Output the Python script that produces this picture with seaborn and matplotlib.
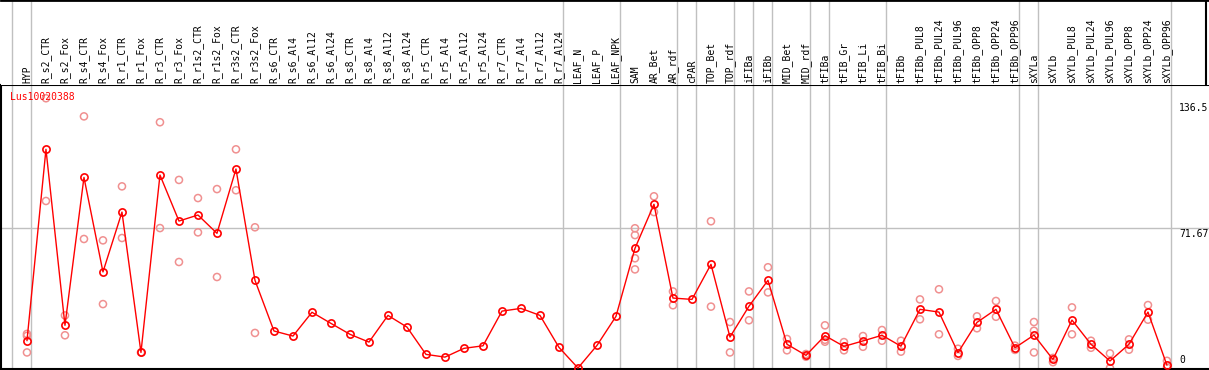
import numpy as np
import pandas as pd
import matplotlib
matplotlib.use("Agg")
import matplotlib.pyplot as plt
import seaborn as sns

# ---------- Data ----------

samples = [
    "HYP", "R_s2_CTR", "R_s2_Fox", "R_s4_CTR", "R_s4_Fox", "R_r1_CTR", "R_r1_Fox",
    "R_r3_CTR", "R_r3_Fox", "R_r1s2_CTR", "R_r1s2_Fox", "R_r3s2_CTR", "R_r3s2_Fox",
    "R_s6_CTR", "R_s6_Al4", "R_s6_Al12", "R_s6_Al24", "R_s8_CTR", "R_s8_Al4",
    "R_s8_Al12", "R_s8_Al24", "R_r5_CTR", "R_r5_Al4", "R_r5_Al12", "R_r5_Al24",
    "R_r7_CTR", "R_r7_Al4", "R_r7_Al12", "R_r7_Al24", "LEAF_N", "LEAF_P", "LEAF_NPK",
    "SAM", "AR_Bet", "AR_rdf", "cPAR", "TOP_Bet", "TOP_rdf", "iFIBa", "iFIBb",
    "MID_Bet", "MID_rdf", "tFIBa", "tFIB_Gr", "tFIB_Li", "tFIB_Bi", "tFIBb",
    "tFIBb_PUL8", "tFIBb_PUL24", "tFIBb_PUL96", "tFIBb_OPP8", "tFIBb_OPP24",
    "tFIBb_OPP96", "sXYLa", "sXYLb", "sXYLb_PUL8", "sXYLb_PUL24", "sXYLb_PUL96",
    "sXYLb_OPP8", "sXYLb_OPP24", "sXYLb_OPP96",
]

mean_vals = [
    14.0, 112.2, 21.9, 97.8, 49.3, 80.0, 8.0,
    99.0, 75.4, 78.5, 69.1, 102.1, 45.0,
    19.0, 16.4, 28.6, 22.9, 17.3, 13.3,
    27.0, 21.0, 7.0, 5.6, 10.1, 11.4,
    29.2, 30.6, 27.0, 10.6, 0.0, 11.6, 26.5,
    61.4, 84.0, 35.9, 35.2, 53.2, 15.9, 31.7, 45.0,
    12.2, 6.5, 16.6, 11.1, 13.9, 16.8, 11.2,
    30.1, 28.7, 7.9, 23.4, 30.1,
    10.4, 16.9, 4.4, 24.6, 12.2, 3.6,
    12.2, 28.7, 1.4,
]

rep_vals = [
    [17.5, 16.5, 8.0], [138.4, 85.7], [27.0, 16.8], [129.1, 66.2], [65.5, 32.8],
    [93.2, 66.7], [8.0], [126.1, 71.8], [96.5, 54.4], [87.2, 69.6], [91.8, 46.7],
    [112.2, 91.2], [72.2, 18.0],
    [], [], [], [], [], [], [], [], [], [], [], [], [], [], [], [], [], [], [],
    [71.7, 68.2, 56.3, 50.6], [88.1, 80.0], [39.3, 32.2], [], [75.3, 31.5],
    [23.6, 8.0], [39.3, 24.5], [51.7, 38.8], [14.9, 9.1], [7.2, 5.8],
    [21.9, 14.5, 13.5], [13.3, 9.1], [16.4, 10.9], [19.5, 14.0], [14.0, 8.4],
    [35.2, 25.0], [40.4, 17.3], [9.9, 6.2], [26.5, 20.4], [34.4, 26.3],
    [11.5, 9.3], [23.6, 19.1, 8.0], [5.2, 3.0], [31.1, 17.3], [14.0, 10.4],
    [7.5, 0.0], [14.7, 9.4], [32.3, 24.8], [3.7, 0.2],
]

# group separators sit just right of the last sample of each group
group_ends = [-1, 0, 28, 31, 34, 35, 37, 38, 39, 41, 42, 45, 52, 53, 60]

gene = "Lus10020388"
ytick_vals = [136.5, 71.67, 0]

# ---------- Plot ----------

sns.set_style("white")
plt.rcParams["font.family"] = ["DejaVu Sans Mono", "DejaVu Sans"]

W, H = 1209, 370
fig = plt.figure(figsize=(W / 100, H / 100), dpi=100)

x0, dx = 26, 19            # pixel position of first column and column pitch
xlim = (-x0 / dx, (W - x0) / dx)
ylim = (-0.5, 145.2)

top_px, bot_px = 85, 369
ax = fig.add_axes([0.0008, (H - bot_px) / H, 1.0, (bot_px - top_px) / H])
ax_h = fig.add_axes([0.0008, (H - top_px) / H, 1.0, top_px / H])

x_idx = np.arange(len(samples))
mean_df = pd.DataFrame({"x": x_idx, "value": mean_vals})
rep_df = pd.DataFrame(
    [(i, v) for i, reps in enumerate(rep_vals) for v in reps],
    columns=["x", "value"],
)

grid_c = "#c0c0c0"
for g in group_ends:
    ax.axvline(g + 0.2, color=grid_c, lw=1.0, zorder=0)
    ax_h.axvline(g + 0.2, color=grid_c, lw=1.0, zorder=0)
ax.axhline(71.67, color=grid_c, lw=1.0, zorder=0)

sns.scatterplot(data=rep_df, x="x", y="value", ax=ax, marker="o", s=26,
                facecolor="none", edgecolor="#f09090", linewidth=1.1,
                legend=False, zorder=2)
sns.lineplot(data=mean_df, x="x", y="value", ax=ax, color="#ff0000", lw=1.0,
             marker="o", markersize=5.2, markerfacecolor="none",
             markeredgecolor="#ff0000", markeredgewidth=1.2,
             errorbar=None, legend=False, zorder=3)

ax.set_xlim(*xlim)
ax.set_ylim(*ylim)
ax.set_xticks([])
ax.set_yticks([])
ax.set_xlabel("")
ax.set_ylabel("")
for side in ["left", "bottom", "top"]:
    ax.spines[side].set_color("black")
    ax.spines[side].set_linewidth(1.5)
ax.spines["right"].set_visible(False)

ax.text(9 / W, 1 - 12 / (bot_px - top_px), gene, transform=ax.transAxes,
        color="#ff0000", fontsize=7, ha="left", va="center")

for v in ytick_vals:
    if v == 0:
        ax.annotate("0", xy=(1178 / W, v), xycoords=("axes fraction", "data"),
                    xytext=(0, 3), textcoords="offset pixels",
                    fontsize=7, ha="left", va="bottom", color="black")
    else:
        ax.annotate(f"{v:g}", xy=(1178 / W, v), xycoords=("axes fraction", "data"),
                    xytext=(0, -1), textcoords="offset pixels",
                    fontsize=7, ha="left", va="top", color="black")

# header with rotated sample names
ax_h.set_xlim(*xlim)
ax_h.set_ylim(0, 1)
ax_h.set_xticks([])
ax_h.set_yticks([])
for side in ["left", "bottom", "right"]:
    ax_h.spines[side].set_visible(False)
ax_h.spines["top"].set_color("black")
ax_h.spines["top"].set_linewidth(2)
ax_h.axvline((1205 - x0) / dx, color="black", lw=1.5)
for i, name in enumerate(samples):
    ax_h.text(i, 2 / top_px, name, rotation=90, fontsize=7,
              ha="center", va="bottom", color="black")

fig.savefig("out.png", dpi=100)
plt.close(fig)
